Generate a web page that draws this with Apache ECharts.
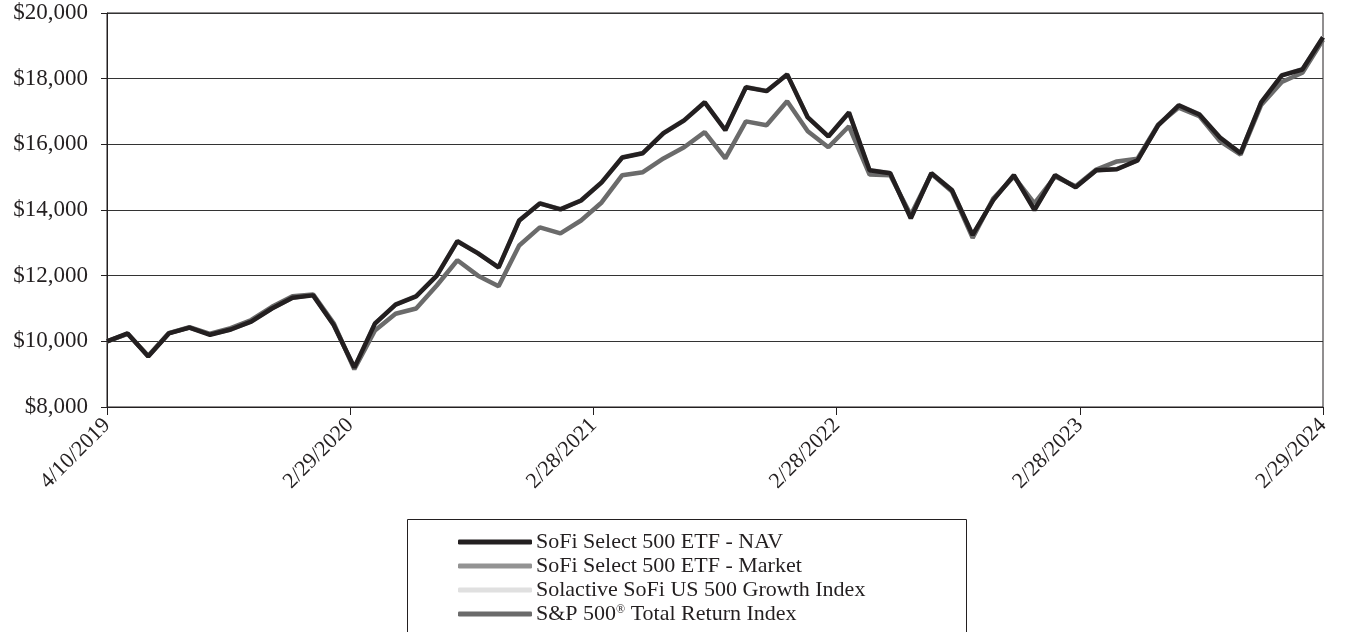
<!DOCTYPE html>
<html>
<head>
<meta charset="utf-8">
<title>SoFi Select 500 ETF</title>
<script src="https://cdn.jsdelivr.net/npm/echarts@6/dist/echarts.min.js"></script>
<style>
html, body { margin: 0; padding: 0; background: #fff; }
#chart { width: 1348px; height: 632px; }
</style>
</head>
<body>
<div id="chart"></div>
<script>
// tick labels on the date axis (5 equal steps over the 59 monthly steps)
var tickLabels = ['4/10/2019', '2/29/2020', '2/28/2021', '2/28/2022', '2/28/2023', '2/29/2024'];

// growth of $10,000, one value per month end
var nav = [10000, 10240, 9540, 10240, 10420, 10200, 10360, 10600, 11000, 11330, 11400, 10500, 9200,
    10540, 11120, 11370, 12000, 13050, 12680, 12250, 13680, 14200, 14020, 14290,
    14840, 15600, 15730, 16340, 16730, 17280, 16430, 17740, 17620, 18130, 16820, 16240, 16970,
    15210, 15120, 13750, 15120, 14600, 13240, 14300, 15060, 14000, 15060, 14690,
    15210, 15240, 15510, 16580, 17190, 16910, 16210, 15730, 17280, 18100, 18280, 19260];
var market = [10000, 10230, 9550, 10250, 10410, 10210, 10350, 10610, 10990, 11320, 11410, 10490, 9180,
    10550, 11110, 11380, 11990, 13040, 12690, 12240, 13670, 14190, 14030, 14280,
    14830, 15590, 15740, 16330, 16720, 17270, 16440, 17730, 17630, 18120, 16830, 16230, 16960,
    15200, 15130, 13760, 15110, 14610, 13230, 14310, 15050, 14010, 15050, 14700,
    15200, 15250, 15500, 16570, 17180, 16920, 16200, 15740, 17270, 18090, 18290, 19250];
var solactive = [10000, 10250, 9550, 10260, 10430, 10220, 10380, 10620, 11020, 11350, 11420, 10520, 9220,
    10560, 11140, 11390, 12020, 13070, 12700, 12270, 13700, 14220, 14040, 14310,
    14860, 15620, 15750, 16360, 16750, 17300, 16450, 17760, 17640, 18150, 16840, 16260, 16990,
    15230, 15140, 13770, 15140, 14620, 13260, 14320, 15080, 14020, 15080, 14710,
    15230, 15260, 15530, 16600, 17210, 16930, 16230, 15750, 17300, 18120, 18300, 19280];
var sp500 = [10000, 10230, 9560, 10250, 10430, 10230, 10400, 10650, 11050, 11370, 11430, 10550, 9150,
    10330, 10840, 11000, 11700, 12470, 12000, 11680, 12920, 13470, 13290, 13680,
    14230, 15060, 15150, 15570, 15910, 16370, 15570, 16700, 16580, 17310, 16400, 15910, 16550,
    15080, 15060, 13850, 15100, 14560, 13150, 14350, 15020, 14200, 15020, 14720,
    15230, 15480, 15560, 16600, 17120, 16860, 16100, 15690, 17200, 17900, 18180, 19180];

var names = ['SoFi Select 500 ETF - NAV', 'SoFi Select 500 ETF - Market',
    'Solactive SoFi US 500 Growth Index', 'S&P 500® Total Return Index'];

var lastIdx = nav.length - 1;
var step = lastIdx / (tickLabels.length - 1);

function pairs(arr) {
    return arr.map(function (v, i) { return [i, v]; });
}

var ink = '#231f20';
var font = 'Liberation Serif';

var myChart = echarts.init(document.getElementById('chart'));
var option = {
    animation: false,
    textStyle: { fontFamily: font },
    grid: {
        left: 107, right: 25, top: 13, bottom: 225,
        show: true, borderColor: ink, borderWidth: 1
    },
    xAxis: {
        type: 'value',
        min: 0,
        max: lastIdx,
        interval: step,
        axisLine: { lineStyle: { color: ink, width: 1 } },
        axisTick: { show: true, length: 8, lineStyle: { color: ink } },
        splitLine: { show: false },
        axisLabel: {
            rotate: 45,
            margin: 15,
            color: ink,
            fontSize: 22,
            fontFamily: font,
            showMinLabel: true,
            showMaxLabel: true,
            formatter: function (v) {
                return tickLabels[Math.round(v / step)];
            }
        }
    },
    yAxis: {
        type: 'value',
        min: 8000,
        max: 20000,
        interval: 2000,
        axisLine: { show: true, lineStyle: { color: ink, width: 1 } },
        axisTick: { show: true, length: 6, lineStyle: { color: ink } },
        splitLine: { show: true, lineStyle: { color: '#333', width: 1 } },
        axisLabel: {
            margin: 19,
            color: ink,
            fontSize: 23,
            fontFamily: font,
            formatter: function (v) {
                return '$' + v.toLocaleString('en-US');
            }
        }
    },
    legend: {
        orient: 'vertical',
        left: 458,
        top: 531,
        itemWidth: 74,
        itemHeight: 5,
        itemGap: 2,
        icon: 'roundRect',
        padding: 0,
        data: names,
        textStyle: {
            color: ink,
            fontSize: 22,
            lineHeight: 21,
            fontFamily: font,
            padding: [0, 0, 0, -1],
            rich: {
                sup: { fontSize: 12, verticalAlign: 'top', lineHeight: 21, color: ink, fontFamily: font, padding: [0, 0, 9, 0] },
                n: { fontSize: 22, lineHeight: 21, color: ink, fontFamily: font }
            }
        },
        formatter: function (name) {
            if (name.indexOf('®') >= 0) {
                var parts = name.split('®');
                return '{n|' + parts[0] + '}{sup|®}{n|' + parts[1] + '}';
            }
            return name;
        }
    },
    graphic: [{
        type: 'rect',
        shape: { x: 407.5, y: 519.5, width: 559, height: 140 },
        style: { fill: 'none', stroke: ink, lineWidth: 1 },
        silent: true
    }],
    series: [
        {
            name: names[2], type: 'line', data: pairs(solactive), showSymbol: false, z: 2,
            lineStyle: { color: '#e0e0e0', width: 4 }, itemStyle: { color: '#e0e0e0' }
        },
        {
            name: names[1], type: 'line', data: pairs(market), showSymbol: false, z: 3,
            lineStyle: { color: '#939393', width: 4 }, itemStyle: { color: '#939393' }
        },
        {
            name: names[3], type: 'line', data: pairs(sp500), showSymbol: false, z: 4,
            lineStyle: { color: '#6b6b6b', width: 4.5 }, itemStyle: { color: '#6b6b6b' }
        },
        {
            name: names[0], type: 'line', data: pairs(nav), showSymbol: false, z: 5,
            lineStyle: { color: ink, width: 4.5 }, itemStyle: { color: ink }
        }
    ]
};
myChart.setOption(option);
window.addEventListener('resize', function () { myChart.resize(); });
</script>
</body>
</html>
